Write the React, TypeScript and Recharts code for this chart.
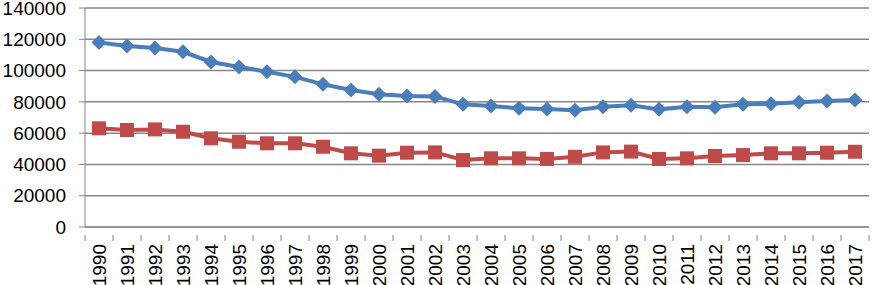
import { LineChart, Line, XAxis, YAxis, CartesianGrid } from "recharts";

const years = [
  "1990", "1991", "1992", "1993", "1994", "1995", "1996", "1997", "1998", "1999",
  "2000", "2001", "2002", "2003", "2004", "2005", "2006", "2007", "2008", "2009",
  "2010", "2011", "2012", "2013", "2014", "2015", "2016", "2017",
];
const blueSeries = [
  118000, 115700, 114400, 112000, 105500, 102300, 99300, 96000, 91200, 87600,
  84800, 83700, 83500, 78400, 77300, 75900, 75400, 74600, 76900, 77800,
  75200, 76900, 76500, 78400, 78800, 79700, 80500, 81200,
];
const redSeries = [
  63100, 62000, 62400, 60900, 56700, 54500, 53500, 53500, 51300, 47100,
  45600, 47500, 47700, 42800, 43900, 43900, 43500, 44900, 47700, 48200,
  43500, 43900, 45400, 46000, 47100, 47100, 47500, 48100,
];
const yTicks = [0, 20000, 40000, 60000, 80000, 100000, 120000, 140000];

const data = years.map((y, i) => ({ year: y, blue: blueSeries[i], red: redSeries[i] }));

const FONT = "'Liberation Sans', Arial, sans-serif";
const AXIS = "#868686";
const BAND = (872 - 85 - 3) / years.length;

const Diamond = (p: any) => {
  const { cx, cy } = p;
  if (cx == null || cy == null) return null;
  const r = 7.5;
  return (
    <path
      key={p.index}
      d={`M${cx},${cy - r}L${cx + r},${cy}L${cx},${cy + r}L${cx - r},${cy}Z`}
      fill="#4a7ebb"
    />
  );
};

const Square = (p: any) => {
  const { cx, cy } = p;
  if (cx == null || cy == null) return null;
  const s = 7;
  return <rect key={p.index} x={cx - s} y={cy - s} width={s * 2} height={s * 2} fill="#be4b48" />;
};

const YearTick = (p: any) => {
  const { x, y, payload, index } = p;
  const left = x - BAND / 2;
  return (
    <g>
      <line x1={left} y1={y} x2={left} y2={y + 6} stroke={AXIS} />
      {index === years.length - 1 && (
        <line x1={x + BAND / 2} y1={y} x2={x + BAND / 2} y2={y + 6} stroke={AXIS} />
      )}
      <text
        x={x}
        y={y + 9}
        transform={`rotate(-90, ${x}, ${y + 9})`}
        textAnchor="end"
        dy="0.35em"
        fontSize={19}
        fontFamily={FONT}
        fill="#000"
      >
        {payload.value}
      </text>
    </g>
  );
};

export default function App() {
  return (
    <div style={{ position: "absolute", left: 0, top: 0, background: "#fff" }}>
      <LineChart width={872} height={285} data={data} margin={{ top: 8, right: 3, left: 0, bottom: 0 }}>
        <CartesianGrid vertical={false} stroke={AXIS} strokeWidth={1.5} />
        <XAxis
          dataKey="year"
          scale="band"
          interval={0}
          height={58}
          stroke={AXIS}
          tickLine={false}
          tick={<YearTick />}
        />
        <YAxis
          domain={[0, 140000]}
          ticks={yTicks}
          width={85}
          stroke={AXIS}
          tickSize={6}
          tickMargin={13}
          tick={{ fontSize: 19, fontFamily: FONT, fill: "#000" }}
          interval={0}
        />
        <Line
          dataKey="blue"
          stroke="#4a7ebb"
          strokeWidth={4}
          dot={<Diamond />}
          isAnimationActive={false}
        />
        <Line
          dataKey="red"
          stroke="#be4b48"
          strokeWidth={4}
          dot={<Square />}
          isAnimationActive={false}
        />
      </LineChart>
    </div>
  );
}
